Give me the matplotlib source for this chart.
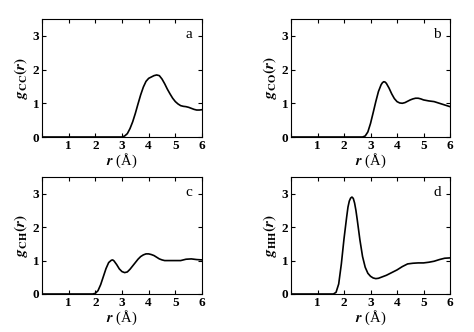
import matplotlib
matplotlib.use('Agg')
from matplotlib import pyplot as plt

plt.rcParams['font.family'] = ['Liberation Serif', 'DejaVu Serif']
plt.rcParams['font.weight'] = 'bold'
plt.rcParams['mathtext.fontset'] = 'stix'

# g_CC(r)
r_cc = [0, 2.9, 3.0, 3.1, 3.2, 3.3, 3.4, 3.5, 3.6, 3.7, 3.8, 3.9, 4.0, 4.1, 4.2, 4.3, 4.4, 4.5,
        4.6, 4.7, 4.8, 4.9, 5.0, 5.1, 5.2, 5.3, 5.4, 5.5, 5.6, 5.7, 5.8, 5.9, 6.0]
g_cc = [0, 0, 0.0, 0.03, 0.1, 0.25, 0.45, 0.7, 0.98, 1.25, 1.48, 1.65, 1.74, 1.78, 1.82, 1.84, 1.82, 1.72,
        1.58, 1.42, 1.28, 1.15, 1.05, 0.98, 0.93, 0.91, 0.9, 0.88, 0.85, 0.82, 0.8, 0.8, 0.81]

# g_CO(r)
r_co = [0, 2.7, 2.8, 2.9, 3.0, 3.1, 3.2, 3.3, 3.4, 3.45, 3.5, 3.55, 3.6, 3.7, 3.8, 3.9, 4.0, 4.1, 4.2, 4.3,
        4.4, 4.5, 4.6, 4.7, 4.8, 4.9, 5.0, 5.2, 5.4, 5.6, 5.8, 6.0]
g_co = [0, 0, 0.03, 0.15, 0.4, 0.72, 1.05, 1.35, 1.55, 1.61, 1.64, 1.63, 1.59, 1.45, 1.28, 1.14, 1.05, 1.01, 1.0, 1.02,
        1.06, 1.1, 1.13, 1.15, 1.15, 1.13, 1.1, 1.07, 1.05, 1.0, 0.95, 0.9]

# g_CH(r)
r_ch = [0, 1.9, 2.0, 2.1, 2.2, 2.3, 2.4, 2.5, 2.6, 2.65, 2.7, 2.8, 2.9, 3.0, 3.1, 3.2, 3.3, 3.4, 3.5,
        3.6, 3.7, 3.8, 3.9, 4.0, 4.1, 4.2, 4.3, 4.4, 4.5, 4.6, 4.8, 5.0, 5.2, 5.4, 5.6, 5.8, 6.0]
g_ch = [0, 0, 0.02, 0.1, 0.28, 0.52, 0.76, 0.94, 1.01, 1.02, 0.99, 0.88, 0.75, 0.67, 0.64, 0.66, 0.74, 0.84, 0.94,
        1.04, 1.12, 1.17, 1.2, 1.2, 1.18, 1.15, 1.1, 1.05, 1.02, 1.0, 1.0, 1.0, 1.0, 1.04, 1.05, 1.03, 1.02]

# g_HH(r)
r_hh = [0, 1.6, 1.7, 1.8, 1.9, 2.0, 2.1, 2.15, 2.2, 2.25, 2.3, 2.35, 2.4, 2.45, 2.5, 2.6, 2.7, 2.8,
        2.9, 3.0, 3.1, 3.2, 3.3, 3.4, 3.6, 3.8, 4.0, 4.2, 4.4, 4.6, 4.8, 5.0, 5.2, 5.4, 5.6, 5.8, 6.0]
g_hh = [0, 0, 0.05, 0.3, 0.9, 1.65, 2.3, 2.6, 2.78, 2.87, 2.9, 2.86, 2.72, 2.5, 2.22, 1.62, 1.12, 0.8,
        0.62, 0.53, 0.48, 0.46, 0.47, 0.5, 0.56, 0.64, 0.72, 0.82, 0.9, 0.92, 0.93, 0.93, 0.95, 0.98, 1.03, 1.07, 1.08]

panels = [
    (r_cc, g_cc, 'CC', 'a'),
    (r_co, g_co, 'CO', 'b'),
    (r_ch, g_ch, 'CH', 'c'),
    (r_hh, g_hh, 'HH', 'd'),
]

# axes rectangles in figure fractions
W, H = 474., 332.
rects = [
    (42 / W, 1 - 137 / H, 160 / W, 118 / H),
    (291 / W, 1 - 137 / H, 159 / W, 118 / H),
    (42 / W, 1 - 294 / H, 160 / W, 117 / H),
    (291 / W, 1 - 294 / H, 159 / W, 117 / H),
]

fig = plt.figure(figsize=(W / 100, H / 100), dpi=100)
for (r, g, sub, letter), rect in zip(panels, rects):
    ax = fig.add_axes(rect)
    ax.plot(r, g, color='black', lw=1.2)
    ax.set_xlim(0, 6)
    ax.set_ylim(0, 3.5)
    ax.set_xticks([0, 1, 2, 3, 4, 5, 6])
    ax.set_xticklabels(['', '1', '2', '3', '4', '5', '6'])
    ax.set_yticks([0, 1, 2, 3])
    ax.tick_params(direction='in', top=True, right=True, length=3, width=0.8,
                   labelsize=9.5, pad=2)
    for s in ax.spines.values():
        s.set_linewidth(0.8)
    ax.set_xlabel(r'$r$ (Å)', fontsize=10.5, labelpad=0)
    ax.set_ylabel(r'$g_{\mathrm{%s}}(r)$' % sub, fontsize=11, labelpad=2)
    ax.text(5.5, 3.05, letter, fontsize=11, fontweight='normal', ha='center', va='center')

fig.savefig('out.png', dpi=100)
